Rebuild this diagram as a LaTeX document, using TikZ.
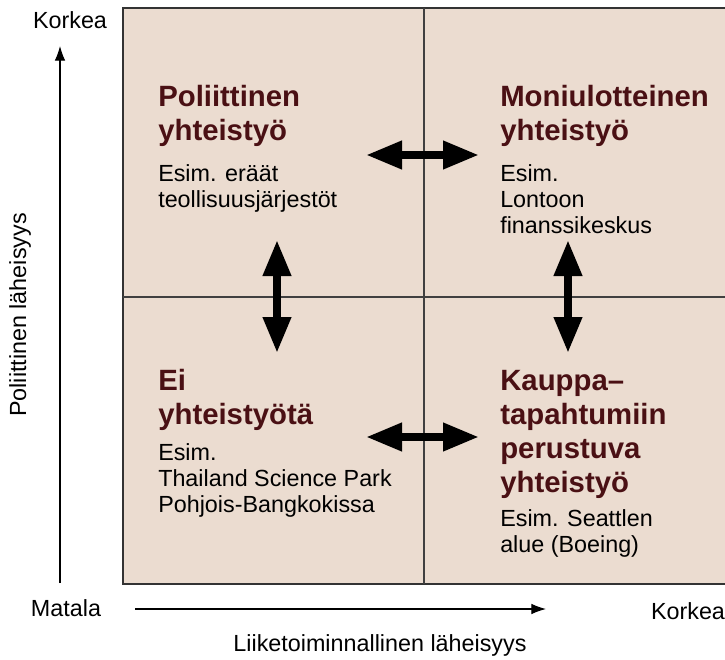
\documentclass[tikz,border=0pt]{standalone}
\usepackage{fontspec}
\setmainfont{Liberation Sans}
\usetikzlibrary{arrows.meta}
\definecolor{quadfill}{RGB}{235,220,208}
\definecolor{titlered}{RGB}{74,16,20}
\tikzset{
  body/.style={anchor=base west,inner sep=0pt,align=left,font=\fontsize{17.5}{19.5}\selectfont},
  title/.style={body,text=titlered,font=\bfseries\fontsize{22}{25.5}\selectfont},
  bigarrow/.style={line width=6pt,{Triangle[length=27pt,width=20pt]}-{Triangle[length=27pt,width=20pt]}},
  axis/.style={line width=0.9pt,-{Latex[length=11pt,width=8pt]}},
  axislabel/.style={font=\fontsize{17.5}{19.5}\selectfont,inner sep=0pt}
}
\begin{document}
\begin{tikzpicture}[x=0.75pt,y=-0.75pt]
  \useasboundingbox (0,0) rectangle (725,660);
  \draw[fill=quadfill,draw=black!80,line width=1.5pt] (123,8) rectangle (728,584);
  \draw[draw=black!75,line width=1.1pt] (424,8) -- (424,584);
  \draw[draw=black!75,line width=1.1pt] (123,297) -- (728,297);

  \node[title] (poltitle) at (158,141) {Poliittinen\\yhteistyö};
  \node[body] (polex) at (158,207) {Esim. eräät\\teollisuusjärjestöt};
  \node[title] (montitle) at (500,141) {Moniulotteinen\\yhteistyö};
  \node[body] (monex) at (500,233) {Esim.\\Lontoon\\finanssikeskus};
  \node[title] (eititle) at (158,424) {Ei\\yhteistyötä};
  \node[body] (eiex) at (158,512) {Esim.\\Thailand Science Park\\Pohjois-Bangkokissa};
  \node[title] (kautitle) at (500,492) {Kauppa–\\tapahtumiin\\perustuva\\yhteistyö};
  \node[body] (kauex) at (500,552) {Esim. Seattlen\\alue (Boeing)};

  \coordinate (pol-e) at (366,155);
  \coordinate (mon-w) at (479,155);
  \coordinate (ei-e) at (366,437);
  \coordinate (kau-w) at (479,437);
  \coordinate (pol-s) at (277,353);
  \coordinate (pol-n) at (277,240);
  \coordinate (mon-s) at (568,353);
  \coordinate (mon-n) at (568,240);
  \draw[bigarrow] (pol-e) -- (mon-w);
  \draw[bigarrow] (ei-e) -- (kau-w);
  \draw[bigarrow] (pol-n) -- (pol-s);
  \draw[bigarrow] (mon-n) -- (mon-s);

  \node[axislabel] (ytop) at (70,20) {Korkea};
  \node[axislabel,rotate=90] (yname) at (20,315) {Poliittinen läheisyys};
  \node[axislabel] (xlow) at (66,608) {Matala};
  \node[axislabel] (xhigh) at (688,611) {Korkea};
  \node[axislabel] (xname) at (380,645) {Liiketoiminnallinen läheisyys};
  \coordinate (yfoot) at (60,583);
  \coordinate (yhead) at (60,46);
  \coordinate (xfoot) at (135,609);
  \coordinate (xhead) at (546,609);
  \draw[axis] (yfoot) -- (yhead);
  \draw[axis] (xfoot) -- (xhead);
\end{tikzpicture}
\end{document}
